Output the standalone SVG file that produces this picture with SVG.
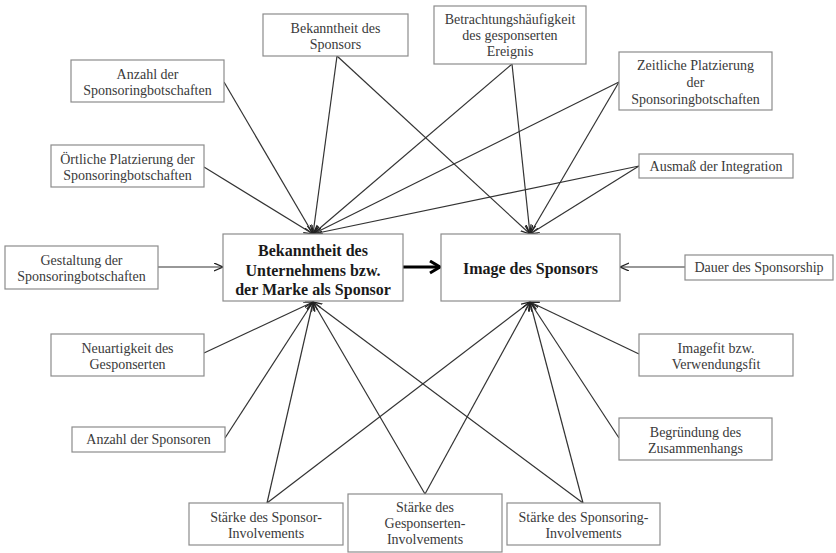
<svg xmlns="http://www.w3.org/2000/svg" width="836" height="553" viewBox="0 0 836 553">
<style>
.b{fill:#fff;stroke:#8c8c8c;stroke-width:1.2}
.t{font-family:"Liberation Serif","Times New Roman",serif;font-size:14px;fill:#3a3a3a;text-anchor:middle}
.m{font-family:"Liberation Serif","Times New Roman",serif;font-size:16px;font-weight:bold;fill:#1a1a1a;text-anchor:middle}
.c line{stroke:#333;stroke-width:1.2;marker-end:url(#a)}
</style>
<defs>
<marker id="a" markerUnits="userSpaceOnUse" markerWidth="12" markerHeight="10" refX="9" refY="4" orient="auto">
<path d="M0,0 L9,4 L0,8" fill="none" stroke="#222" stroke-width="1.3"/>
</marker>
<marker id="A" markerUnits="userSpaceOnUse" markerWidth="14" markerHeight="16" refX="11" refY="7" orient="auto">
<path d="M1,1 L11,7 L1,13" fill="none" stroke="#000" stroke-width="3"/>
</marker>
</defs>
<rect width="836" height="553" fill="#fff"/>
<g class="c" id="connectors">
<line x1="224" y1="82" x2="313" y2="234"/>
<line x1="204" y1="167" x2="313" y2="234"/>
<line x1="337" y1="56" x2="313" y2="234"/>
<line x1="337" y1="56" x2="530" y2="234"/>
<line x1="512" y1="64" x2="313" y2="234"/>
<line x1="512" y1="64" x2="530" y2="234"/>
<line x1="619" y1="82" x2="313" y2="234"/>
<line x1="619" y1="82" x2="530" y2="234"/>
<line x1="639" y1="166" x2="313" y2="234"/>
<line x1="639" y1="166" x2="530" y2="234"/>
<line x1="158" y1="267" x2="223" y2="267"/>
<line x1="685" y1="267" x2="620" y2="267"/>
<line x1="204" y1="353" x2="313" y2="302"/>
<line x1="225" y1="438" x2="313" y2="302"/>
<line x1="267" y1="503" x2="313" y2="302"/>
<line x1="425" y1="494" x2="313" y2="302"/>
<line x1="583" y1="503" x2="313" y2="302"/>
<line x1="267" y1="503" x2="530" y2="302"/>
<line x1="425" y1="494" x2="530" y2="302"/>
<line x1="583" y1="503" x2="530" y2="302"/>
<line x1="619" y1="438" x2="530" y2="302"/>
<line x1="639" y1="354" x2="530" y2="302"/>
<line x1="403" y1="267" x2="440" y2="267" style="stroke:#000;stroke-width:3.2;marker-end:url(#A)"/>
</g>
<g id="n1"><rect class="b" x="71" y="60" width="153" height="42"/><text class="t" x="147.5" y="79">Anzahl der</text><text class="t" x="147.5" y="94.5">Sponsoringbotschaften</text></g>
<g id="n2"><rect class="b" x="51" y="145" width="153" height="42"/><text class="t" x="127.5" y="164">Örtliche Platzierung der</text><text class="t" x="127.5" y="179.5">Sponsoringbotschaften</text></g>
<g id="n3"><rect class="b" x="263" y="14" width="145" height="42"/><text class="t" x="335.5" y="33">Bekanntheit des</text><text class="t" x="335.5" y="49">Sponsors</text></g>
<g id="n4"><rect class="b" x="434" y="6" width="152" height="58"/><text class="t" x="510" y="23.5">Betrachtungshäufigkeit</text><text class="t" x="510" y="39.5">des gesponserten</text><text class="t" x="510" y="55.5">Ereignis</text></g>
<g id="n5"><rect class="b" x="619" y="52" width="153" height="58"/><text class="t" x="695.5" y="69.5">Zeitliche Platzierung</text><text class="t" x="695.5" y="86.5">der</text><text class="t" x="695.5" y="103.5">Sponsoringbotschaften</text></g>
<g id="n6"><rect class="b" x="639" y="154" width="154" height="24"/><text class="t" x="716" y="171">Ausmaß der Integration</text></g>
<g id="n7"><rect class="b" x="5" y="246" width="153" height="43"/><text class="t" x="81.5" y="265">Gestaltung der</text><text class="t" x="81.5" y="281">Sponsoringbotschaften</text></g>
<g id="n8"><rect class="b" x="223" y="234" width="180" height="67"/><text class="m" x="313" y="256">Bekanntheit des</text><text class="m" x="313" y="275.5">Unternehmens bzw.</text><text class="m" x="313" y="295">der Marke als Sponsor</text></g>
<g id="n9"><rect class="b" x="441" y="234" width="179" height="67"/><text class="m" x="530.5" y="274">Image des Sponsors</text></g>
<g id="n10"><rect class="b" x="685" y="255" width="148" height="25"/><text class="t" x="759" y="272">Dauer des Sponsorship</text></g>
<g id="n11"><rect class="b" x="51" y="334" width="153" height="42"/><text class="t" x="127.5" y="353">Neuartigkeit des</text><text class="t" x="127.5" y="368.5">Gesponserten</text></g>
<g id="n12"><rect class="b" x="72" y="427" width="153" height="25"/><text class="t" x="148.5" y="444">Anzahl der Sponsoren</text></g>
<g id="n13"><rect class="b" x="639" y="334" width="154" height="42"/><text class="t" x="716" y="353">Imagefit bzw.</text><text class="t" x="716" y="368.5">Verwendungsfit</text></g>
<g id="n14"><rect class="b" x="619" y="418" width="153" height="42"/><text class="t" x="695.5" y="437">Begründung des</text><text class="t" x="695.5" y="452.5">Zusammenhangs</text></g>
<g id="n15"><rect class="b" x="189" y="503" width="154" height="42"/><text class="t" x="266" y="522">Stärke des Sponsor-</text><text class="t" x="266" y="537.5">Involvements</text></g>
<g id="n16"><rect class="b" x="348" y="494" width="154" height="58"/><text class="t" x="425" y="511.5">Stärke des</text><text class="t" x="425" y="527.5">Gesponserten-</text><text class="t" x="425" y="543.5">Involvements</text></g>
<g id="n17"><rect class="b" x="507" y="503" width="153" height="42"/><text class="t" x="583.5" y="522">Stärke des Sponsoring-</text><text class="t" x="583.5" y="537.5">Involvements</text></g>
</svg>
